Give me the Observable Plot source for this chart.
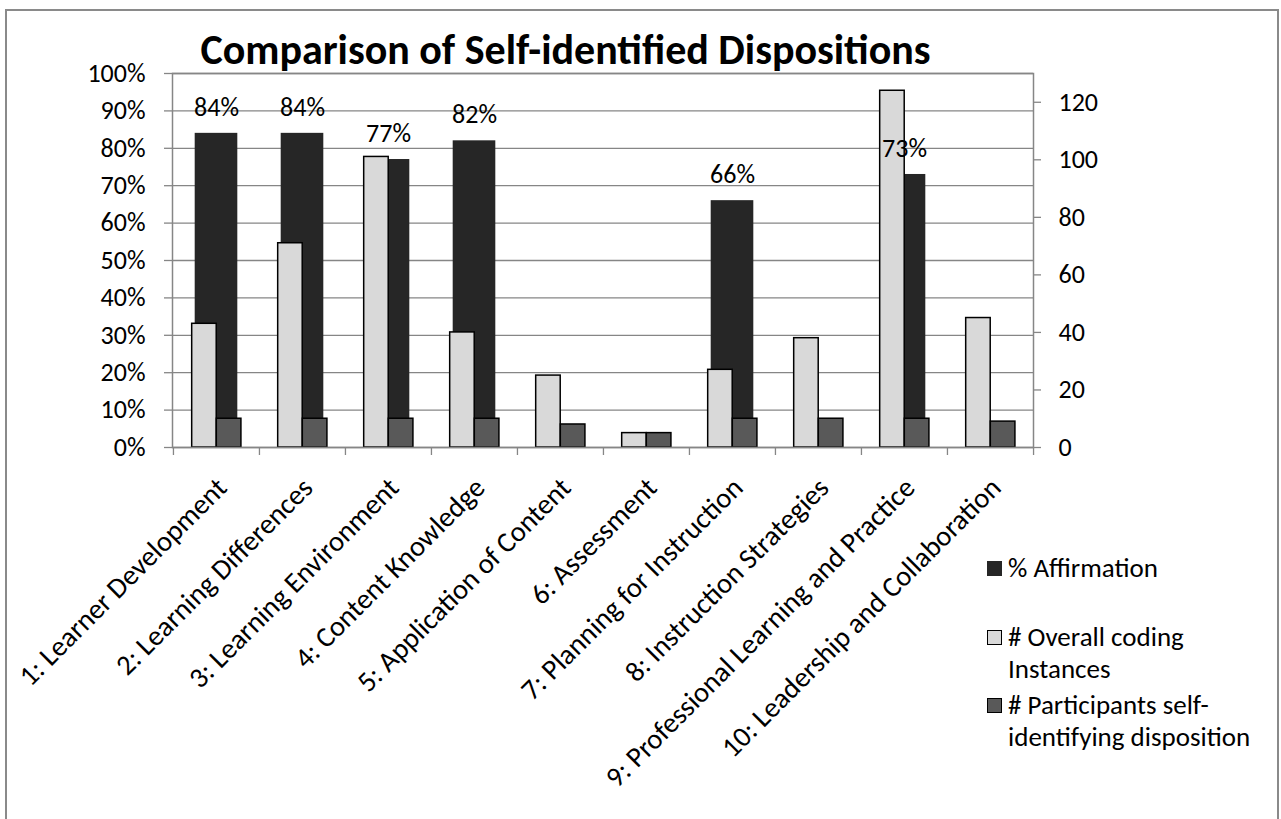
<!DOCTYPE html>
<html>
<head>
<meta charset="utf-8">
<script src="https://cdn.jsdelivr.net/npm/d3@7"></script>
<script src="https://cdn.jsdelivr.net/npm/@observablehq/plot@0.6"></script>
<style>
  html, body { margin: 0; padding: 0; background: #fff; }
  #wrap { position: relative; width: 1281px; height: 819px; overflow: hidden; font-family: Carlito, Calibri, Lato, sans-serif; }
  #border { position: absolute; left: 5px; top: 9px; width: 1274px; height: 812px; border: 2px solid #8a8a8a; box-sizing: border-box; }
  #chart { position: absolute; left: 0; top: 0; }
  #title { position: absolute; left: 0; width: 1131px; text-align: center; top: 29px; font-weight: bold; font-size: 42px; line-height: 1; color: #000; white-space: nowrap; }
  .leg { position: absolute; left: 987px; font-size: 27px; line-height: 32px; color: #000; }
  .sw { position: absolute; width: 15px; height: 15px; box-sizing: border-box; }
  .lt { position: absolute; left: 21px; white-space: nowrap; }
</style>
</head>
<body>
<div id="wrap">
  <div id="border"></div>
  <div id="chart"></div>
  <div id="title"></div>
  <div id="legend"></div>
</div>
<script>
const categories = [
  "1: Learner Development",
  "2: Learning Differences",
  "3: Learning Environment",
  "4: Content Knowledge",
  "5: Application of Content",
  "6: Assessment",
  "7: Planning for Instruction",
  "8: Instruction Strategies",
  "9: Professional Learning and Practice",
  "10: Leadership and Collaboration"
];
const affirmation = [84, 84, 77, 82, null, null, 66, null, 73, null];
const overallCoding = [43, 71, 101, 40, 25, 5, 27, 38, 124, 45];
const participants = [10, 10, 10, 10, 8, 5, 10, 10, 10, 9];
const leftTicks = [0, 10, 20, 30, 40, 50, 60, 70, 80, 90, 100];
const rightTicks = [0, 20, 40, 60, 80, 100, 120];
const rightMax = 130;
const seriesNames = ["% Affirmation", "# Overall coding Instances", "# Participants self-identifying disposition"];
const seriesColors = ["#262626", "#d9d9d9", "#595959"];
const titleText = "Comparison of Self-identified Dispositions";

const toLeft = v => v * 100 / rightMax;

const affData = categories.map((c, i) => ({cat: c, v: affirmation[i]})).filter(d => d.v != null);
const overallData = categories.map((c, i) => ({cat: c, v: overallCoding[i]}));
const partData = categories.map((c, i) => ({cat: c, v: participants[i]}));

const W = 1281, H = 819;
const mL = 172, mR = 248, mT = 73, mB = 372;
const band = (W - mL - mR) / categories.length;
const FONT = "Carlito, Calibri, Lato, sans-serif";

const chart = Plot.plot({
  width: W,
  height: H,
  marginLeft: mL,
  marginRight: mR,
  marginTop: mT,
  marginBottom: mB,
  style: {fontFamily: FONT, background: "transparent", color: "#000"},
  x: {type: "band", domain: categories, padding: 0, axis: null, label: null},
  y: {domain: [0, 100], axis: null, label: null},
  marks: [
    Plot.gridY(leftTicks, {stroke: "#868686", strokeOpacity: 1, strokeWidth: 1.3}),
    Plot.barY(affData, {x: "cat", y: "v", fill: seriesColors[0], insetLeft: band * 0.252, insetRight: band * 0.252}),
    Plot.barY(overallData, {x: "cat", y: d => toLeft(d.v), fill: seriesColors[1], stroke: "#000", strokeWidth: 1.5, insetLeft: band * 0.217, insetRight: band * 0.497}),
    Plot.barY(partData, {x: "cat", y: d => toLeft(d.v), fill: seriesColors[2], stroke: "#000", strokeWidth: 1.5, insetLeft: band * 0.503, insetRight: band * 0.21}),
    Plot.frame({stroke: "#868686", strokeWidth: 1.5}),
    Plot.axisY(leftTicks, {anchor: "left", label: null, tickSize: 8, tickPadding: 19, tickFormat: d => d + "%", fontSize: 26, stroke: "#868686", strokeWidth: 1.3, fill: "#000"}),
    Plot.axisY(rightTicks.map(toLeft), {anchor: "right", label: null, tickSize: 7, tickPadding: 18, tickFormat: d => String(Math.round(d * rightMax / 100)), fontSize: 26, stroke: "#868686", strokeWidth: 1.3, fill: "#000", textAnchor: "start"}),
    Plot.axisX(categories, {anchor: "bottom", label: null, tickSize: 8, tickFormat: () => "", dx: -band / 2, stroke: "#868686", strokeWidth: 1.3}),
    Plot.axisX([categories[categories.length - 1]], {anchor: "bottom", label: null, tickSize: 8, tickFormat: () => "", dx: band / 2, stroke: "#868686", strokeWidth: 1.3}),
    Plot.text(categories, {x: d => d, frameAnchor: "bottom", rotate: -45, textAnchor: "end", lineAnchor: "bottom", dx: 12, dy: 42, fontSize: 28.5, fill: "#000"}),
    Plot.text(affData, {x: "cat", y: "v", text: d => d.v + "%", dy: -26, fontSize: 26, fill: "#000"})
  ]
});
document.getElementById("chart").appendChild(chart);

document.getElementById("title").textContent = titleText;

const legend = document.getElementById("legend");
const legendRows = [
  {lines: ["% Affirmation"], top: 551.5, stroke: false},
  {lines: ["# Overall coding", "Instances"], top: 620.5, stroke: true},
  {lines: ["# Participants self-", "identifying disposition"], top: 688.5, stroke: true}
];
legendRows.forEach((r, i) => {
  const g = document.createElement("div");
  g.className = "leg";
  g.style.top = r.top + "px";
  const sw = document.createElement("div");
  sw.className = "sw";
  sw.style.top = "9px";
  sw.style.left = "0px";
  sw.style.background = seriesColors[i];
  if (r.stroke) sw.style.border = "1.5px solid #000";
  g.appendChild(sw);
  const t = document.createElement("div");
  t.className = "lt";
  t.innerHTML = r.lines.join("<br>");
  g.appendChild(t);
  legend.appendChild(g);
});
</script>
</body>
</html>
